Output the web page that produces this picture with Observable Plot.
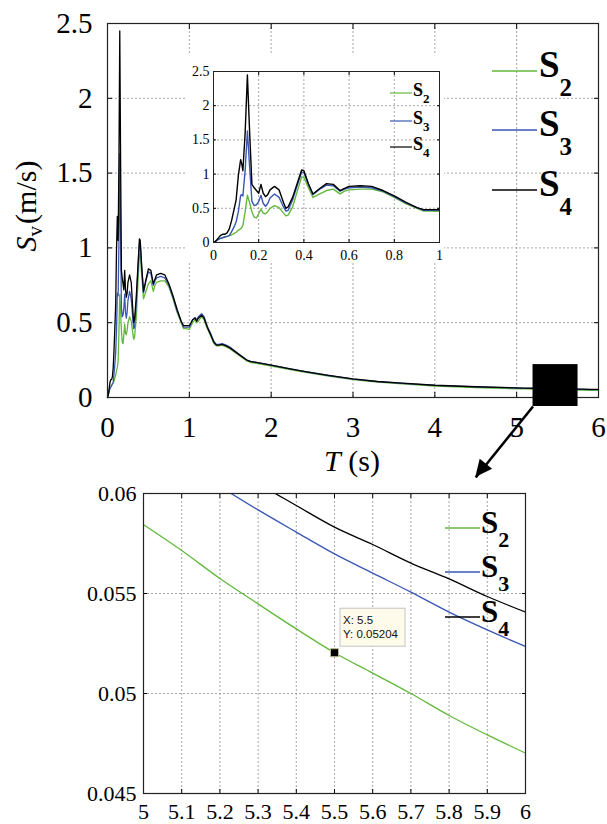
<!DOCTYPE html>
<html><head><meta charset="utf-8">
<script src="https://cdn.jsdelivr.net/npm/d3@7"></script>
<script src="https://cdn.jsdelivr.net/npm/@observablehq/plot@0.6"></script>
<style>
body{margin:0;background:#fff;}
#wrap{position:relative;width:607px;height:824px;overflow:hidden;background:#fff;}
#wrap svg{position:absolute;}
</style></head><body><div id="wrap"></div>
<script>
// ---- data ----
const T = [0,0.01,0.02,0.03,0.04,0.05,0.06,0.07,0.08,0.09,0.1,0.11,0.12,
  0.125,0.13,0.14,0.15,0.16,0.17,0.18,0.19,0.2,0.21,0.22,0.23,0.24,0.25,
  0.27,0.29,0.31,0.32,0.33,
  0.35,0.37,0.39,0.4,0.42,0.44,0.47,0.5,
  0.53,0.56,0.58,0.6,0.65,0.7,0.75,0.8,0.85,0.9,0.93,0.96,1.0,
  1.04,1.07,1.09,1.11,1.15,1.18,1.22,1.26,1.3,1.33,1.36,1.4,1.45,1.5,
  1.6,1.7,1.75,1.8,2.0,2.2,2.4,2.7,3.0,3.3,3.6,4.0,4.5,
  5.0,5.1,5.2,5.3,5.4,5.5,5.6,5.7,5.8,5.9,6.0];
const S2 = [0,0.02,0.04,0.06,0.07,0.08,0.09,0.1,0.11,0.13,0.15,0.18,0.2,
  0.22,0.25,0.45,0.69,0.58,0.45,0.37,0.36,0.42,0.49,0.43,0.42,0.45,0.5,
  0.54,0.51,0.43,0.39,0.40,
  0.52,0.74,0.96,0.95,0.80,0.66,0.71,0.76,
  0.78,0.71,0.75,0.77,0.78,0.78,0.74,0.66,0.57,0.50,0.46,0.46,0.455,
  0.50,0.52,0.50,0.51,0.54,0.52,0.46,0.415,0.36,0.345,0.345,0.35,0.338,0.325,
  0.285,0.245,0.234,0.23,0.21,0.19,0.17,0.143,0.12,0.103,0.091,0.077,0.067,
  0.05844,0.05715,0.05575,0.05448,0.05323,0.05204,0.05102,0.0500,0.0489,0.04793,0.04702];
const S3 = [0,0.02,0.04,0.06,0.07,0.08,0.09,0.1,0.16,0.22,0.3,0.45,0.69,
  0.7,0.68,1.05,1.63,1.1,0.6,0.54,0.55,0.6,0.69,0.57,0.53,0.57,0.65,
  0.71,0.66,0.52,0.46,0.47,
  0.62,0.83,1.03,1.02,0.85,0.70,0.78,0.84,
  0.83,0.75,0.78,0.80,0.81,0.80,0.75,0.67,0.58,0.51,0.47,0.47,0.47,
  0.52,0.535,0.52,0.54,0.56,0.54,0.475,0.43,0.375,0.355,0.355,0.36,0.35,0.335,
  0.293,0.252,0.241,0.237,0.216,0.195,0.175,0.147,0.123,0.106,0.095,0.081,0.071,
  0.0629,0.0616,0.06035,0.05918,0.05807,0.05698,0.05602,0.05507,0.05407,0.05318,0.05235];
const S4 = [0,0.02,0.06,0.1,0.12,0.12,0.14,0.2,0.32,0.47,0.62,0.98,1.21,
  1.15,1.05,1.6,2.45,1.6,0.85,0.8,0.76,0.72,0.85,0.72,0.67,0.7,0.77,
  0.82,0.77,0.58,0.5,0.52,
  0.66,0.86,1.06,1.05,0.86,0.71,0.79,0.86,
  0.85,0.76,0.79,0.82,0.83,0.82,0.76,0.68,0.59,0.51,0.48,0.48,0.48,
  0.52,0.53,0.51,0.53,0.55,0.53,0.47,0.42,0.37,0.35,0.35,0.355,0.345,0.33,
  0.29,0.25,0.24,0.237,0.216,0.195,0.175,0.148,0.124,0.107,0.096,0.082,0.072,
  0.0644,0.0630,0.0617,0.0605,0.0594,0.05832,0.05745,0.05652,0.05573,0.05485,0.05407];

const seriesNames = ["S2","S3","S4"];
const seriesSubs = ["2","3","4"];
const seriesColors = ["#63b83b","#3a56b4","#000000"];

const mainXTicks = [0,1,2,3,4,5,6];
const mainYTicks = [0,0.5,1,1.5,2,2.5];
const insetXTicks = [0,0.2,0.4,0.6,0.8,1];
const insetYTicks = [0,0.5,1,1.5,2,2.5];
const zoomXTicks = [5,5.1,5.2,5.3,5.4,5.5,5.6,5.7,5.8,5.9,6];
const zoomYTicks = [0.045,0.05,0.055,0.06];

// annotation: highlighted region and arrow (data units of the main chart)
const zoomBox = [{x1:5.2, x2:5.75, y1:-0.06, y2:0.22}];
const arrowLink = [{x1:5.2, y1:-0.06, x2:4.5, y2:-0.535}];
// data tip on the zoomed view
const tipX = 5.5, tipY = 0.05204;

// ---- long table built from the arrays ----
const rows = [];
[S2,S3,S4].forEach((vals,i)=>T.forEach((t,j)=>rows.push({T:t, v:vals[j], s:seriesNames[i]})));

const serif = "Liberation Serif, serif";
const gridStyle = {stroke:"#8a8a8a", strokeOpacity:0.75, strokeDasharray:"2,2", strokeWidth:1};
const colorScale = {domain:seriesNames, range:seriesColors};
const wrap = document.getElementById("wrap");

// ---------------- main chart ----------------
const main = Plot.plot({
  width:607, height:485,
  marginLeft:107, marginRight:9, marginTop:23, marginBottom:88,
  style:{fontFamily:serif, fontSize:"29px", background:"transparent", color:"#000"},
  x:{domain:[0,6], label:null},
  y:{domain:[0,2.5], label:null},
  color:colorScale,
  marks:[
    Plot.gridX(mainXTicks, gridStyle),
    Plot.gridY(mainYTicks, gridStyle),
    Plot.axisX(mainXTicks, {anchor:"bottom", tickSize:-5, tickPadding:24, tickFormat:d=>String(d), label:null}),
    Plot.axisX(mainXTicks, {anchor:"top", tickSize:-5, tickFormat:()=>"", label:null}),
    Plot.axisY(mainYTicks, {anchor:"left", tickSize:-5, tickPadding:20, tickFormat:d=>String(d), label:null}),
    Plot.axisY(mainYTicks, {anchor:"right", tickSize:-5, tickFormat:()=>"", label:null}),
    Plot.line(rows, {x:"T", y:"v", z:"s", stroke:"s", strokeWidth:1.3}),
    Plot.frame({stroke:"#222", strokeWidth:1.2}),
    Plot.rect(zoomBox, {x1:"x1", x2:"x2", y1:"y1", y2:"y2", fill:"#000"}),
    Plot.link(arrowLink, {x1:"x1", y1:"y1", x2:"x2", y2:"y2", stroke:"#000", strokeWidth:2.6})
  ]
});
main.style.left = "0px"; main.style.top = "0px";
wrap.appendChild(main);

{
  const sx = main.scale("x"), sy = main.scale("y");
  const s = d3.select(main);
  // filled arrow head at the link's end
  const a = arrowLink[0];
  const X1 = sx.apply(a.x1), Y1 = sy.apply(a.y1), X2 = sx.apply(a.x2), Y2 = sy.apply(a.y2);
  const ang = Math.atan2(Y2-Y1, X2-X1), L = 17, W = 8;
  const bx = X2 - L*Math.cos(ang), by = Y2 - L*Math.sin(ang);
  s.append("path")
    .attr("d", `M${X2},${Y2}L${bx + W*Math.sin(ang)},${by - W*Math.cos(ang)}L${bx - W*Math.sin(ang)},${by + W*Math.cos(ang)}Z`)
    .attr("fill","#000");
  // axis titles
  const yl = s.append("text").attr("transform","translate(36,206) rotate(-90)")
    .attr("text-anchor","middle").attr("font-family",serif).attr("font-size",30).attr("fill","#000");
  yl.append("tspan").attr("font-style","italic").text("S");
  yl.append("tspan").attr("font-size",21).attr("dy",6).text("v");
  yl.append("tspan").attr("dy",-6).attr("dx",2).text("(m/s)");
  const xl = s.append("text").attr("x",352).attr("y",471)
    .attr("text-anchor","middle").attr("font-family",serif).attr("font-size",30).attr("fill","#000");
  xl.append("tspan").attr("font-style","italic").text("T");
  xl.append("tspan").text(" (s)");
}

// legend helper (pixel layout)
function addLegend(svg, o){
  const s = d3.select(svg);
  seriesNames.forEach((name,i)=>{
    const y = o.ys[i];
    s.append("line").attr("x1",o.x1).attr("x2",o.x2).attr("y1",y).attr("y2",y)
      .attr("stroke",seriesColors[i]).attr("stroke-width",o.lw);
    const t = s.append("text").attr("x",o.tx).attr("y",y+o.base).attr("text-anchor","start")
      .attr("font-family",serif).attr("font-weight","bold").attr("font-size",o.fs).attr("fill","#000");
    t.append("tspan").text("S");
    t.append("tspan").attr("font-size",o.sub).attr("dy",o.subDy).text(seriesSubs[i]);
  });
}
addLegend(main, {x1:492, x2:537, ys:[71,130,190], tx:539, base:6, fs:37, sub:25, subDy:19, lw:1.3});

// ---------------- inset ----------------
const inset = Plot.plot({
  width:258, height:209,
  marginLeft:27, marginRight:5, marginTop:18, marginBottom:20,
  style:{fontFamily:serif, fontSize:"14px", background:"#fff", color:"#000"},
  x:{domain:[0,1], label:null},
  y:{domain:[0,2.5], label:null},
  color:colorScale,
  marks:[
    Plot.gridX(insetXTicks, gridStyle),
    Plot.gridY(insetYTicks, gridStyle),
    Plot.axisX(insetXTicks, {anchor:"bottom", tickSize:-3, tickPadding:11, tickFormat:d=>String(d), label:null}),
    Plot.axisX(insetXTicks, {anchor:"top", tickSize:-3, tickFormat:()=>"", label:null}),
    Plot.axisY(insetYTicks, {anchor:"left", tickSize:-3, tickPadding:7, tickFormat:d=>String(d), label:null}),
    Plot.axisY(insetYTicks, {anchor:"right", tickSize:-3, tickFormat:()=>"", label:null}),
    Plot.line(rows.filter(d=>d.T<=1), {x:"T", y:"v", z:"s", stroke:"s", strokeWidth:1.4, clip:true}),
    Plot.frame({stroke:"#222", strokeWidth:1})
  ]
});
inset.style.left = "186px"; inset.style.top = "53px";
wrap.appendChild(inset);
addLegend(inset, {x1:390-186, x2:412-186, ys:[93-53,121-53,147-53], tx:413-186, base:3, fs:18, sub:13, subDy:7, lw:1.2});

// ---------------- zoomed view ----------------
const zoom = Plot.plot({
  width:607, height:344,
  marginLeft:143, marginRight:82, marginTop:13, marginBottom:31,
  style:{fontFamily:serif, fontSize:"22px", background:"transparent", color:"#000"},
  x:{domain:[5,6], label:null},
  y:{domain:[0.045,0.06], label:null},
  color:colorScale,
  marks:[
    Plot.gridX(zoomXTicks, gridStyle),
    Plot.gridY(zoomYTicks, gridStyle),
    Plot.axisX(zoomXTicks, {anchor:"bottom", tickSize:-4, tickPadding:14, tickFormat:d=>String(d), label:null}),
    Plot.axisX(zoomXTicks, {anchor:"top", tickSize:-4, tickFormat:()=>"", label:null}),
    Plot.axisY(zoomYTicks, {anchor:"left", tickSize:-4, tickPadding:11, tickFormat:d=>String(d), label:null}),
    Plot.axisY(zoomYTicks, {anchor:"right", tickSize:-4, tickFormat:()=>"", label:null}),
    Plot.line(rows.filter(d=>d.T>=5), {x:"T", y:"v", z:"s", stroke:"s", strokeWidth:1.3, curve:"monotone-x", clip:true}),
    Plot.frame({stroke:"#222", strokeWidth:1.2}),
    Plot.dot([{T:tipX, v:tipY}], {x:"T", y:"v", symbol:"square", r:4.5, fill:"#000", stroke:"#b9b48e", strokeWidth:1})
  ]
});
zoom.style.left = "0px"; zoom.style.top = "480px";
wrap.appendChild(zoom);
addLegend(zoom, {x1:445, x2:480, ys:[528-480,572-480,617-480], tx:481, base:5, fs:31, sub:22, subDy:14, lw:1.3});
{
  const sx = zoom.scale("x"), sy = zoom.scale("y");
  const px = sx.apply(tipX), py = sy.apply(tipY);
  const s = d3.select(zoom);
  const g = s.append("g").attr("text-anchor","start");
  g.append("rect").attr("x",px+6).attr("y",py-44).attr("width",65).attr("height",38)
    .attr("fill","#fffbea").attr("stroke","#c4c4c4").attr("stroke-width",1);
  const sans = "Liberation Sans, sans-serif";
  g.append("text").attr("x",px+9).attr("y",py-28).attr("font-family",sans).attr("font-size",11.5).attr("fill","#111").text(`X: ${tipX}`);
  g.append("text").attr("x",px+9).attr("y",py-14).attr("font-family",sans).attr("font-size",11.5).attr("fill","#111").text(`Y: ${tipY}`);
}
</script></body></html>
